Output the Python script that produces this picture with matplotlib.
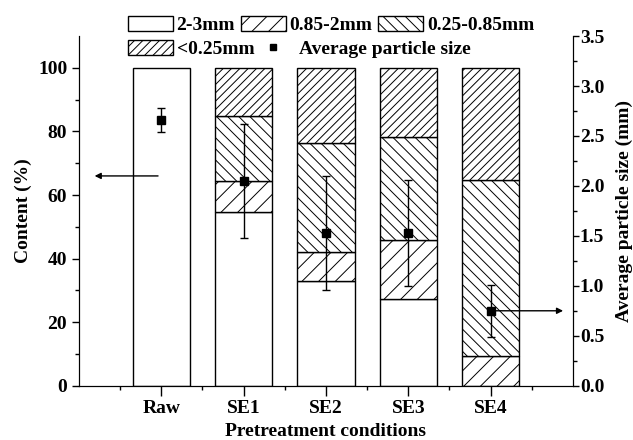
import numpy as np
import matplotlib
matplotlib.use("Agg")
import matplotlib.pyplot as plt
from matplotlib.patches import Patch
from matplotlib.lines import Line2D
from matplotlib.ticker import MultipleLocator, FixedLocator, FormatStrFormatter

# data
categories = ['Raw', 'SE1', 'SE2', 'SE3', 'SE4']
frac_2_3 = [100, 54.5, 33.0, 27.3, 0]
frac_085_2 = [0, 10.0, 9.1, 18.5, 9.4]
frac_025_085 = [0, 20.5, 34.2, 32.5, 55.3]
frac_lt025 = [0, 15.0, 23.7, 21.7, 35.3]
avg_size = [2.66, 2.05, 1.53, 1.53, 0.75]
avg_err = [0.12, 0.57, 0.57, 0.53, 0.26]

labels = ['2-3mm', '0.85-2mm', '0.25-0.85mm', '<0.25mm']
hatches = ['', '//', '\\\\\\', '////']

plt.rcParams['font.family'] = ['Liberation Serif', 'DejaVu Serif']
plt.rcParams['font.weight'] = 'bold'
plt.rcParams['axes.labelweight'] = 'bold'
plt.rcParams['font.size'] = 14
plt.rcParams['hatch.linewidth'] = 0.7

fig = plt.figure(figsize=(6.33, 4.40), dpi=100)
ax = fig.add_axes([0.1248, 0.1234, 0.7804, 0.7946])

x = np.arange(1, len(categories) + 1)
bottom = np.zeros(len(categories))
for vals, h in zip([frac_2_3, frac_085_2, frac_025_085, frac_lt025], hatches):
    vals = np.array(vals, dtype=float)
    keep = vals > 0
    ax.bar(x[keep], vals[keep], 0.7, bottom=bottom[keep], color='white',
           edgecolor='black', hatch=h, linewidth=1, zorder=2)
    bottom += vals

ax.set_xlim(0, 6)
ax.set_ylim(0, 110)
ax.set_xticks(x, categories)
ax.xaxis.set_minor_locator(FixedLocator(np.arange(0.5, 6, 1)))
ax.yaxis.set_major_locator(FixedLocator(np.arange(0, 101, 20)))
ax.yaxis.set_minor_locator(FixedLocator(np.arange(10, 101, 20)))
ax.tick_params(which='major', direction='out', length=5, width=1)
ax.tick_params(which='minor', direction='out', length=3, width=1)
ax.tick_params(axis='x', which='major', length=7)
ax.set_xlabel('Pretreatment conditions', labelpad=4)
ax.set_ylabel('Content (%)')
ax.spines['top'].set_visible(False)

ax2 = ax.twinx()
ax2.errorbar(x, avg_size, yerr=avg_err, fmt='s', color='black', ms=6,
             capsize=3, elinewidth=1, capthick=1, zorder=3)
ax2.set_ylim(0, 3.5)
ax2.yaxis.set_major_locator(MultipleLocator(0.5))
ax2.yaxis.set_minor_locator(MultipleLocator(0.25))
ax2.yaxis.set_major_formatter(FormatStrFormatter('%.1f'))
ax2.tick_params(which='major', direction='out', length=4, width=1, pad=1)
ax2.tick_params(which='minor', direction='out', length=3, width=1)
ax2.set_ylabel('Average particle size (mm)', labelpad=8)
ax2.spines['top'].set_visible(False)

# arrows pointing to the matching axis
arr = dict(arrowstyle='-|>', color='black', lw=1, mutation_scale=9,
           shrinkA=0, shrinkB=0)
ax.annotate('', xy=(0.19, 66), xytext=(0.96, 66), arrowprops=arr)
ax2.annotate('', xy=(5.88, avg_size[-1]), xytext=(x[-1], avg_size[-1]),
             arrowprops=arr)

patches = [Patch(facecolor='white', edgecolor='black', hatch=h, linewidth=1)
           for h in hatches]
marker = Line2D([], [], marker='s', ls='none', color='black', ms=5)

common = dict(frameon=False, borderpad=0, borderaxespad=0, handlelength=2.3,
              handleheight=0.82, handletextpad=0.2, loc='center left')
fig.legend(patches[:3], labels[:3], ncol=3, columnspacing=0.3,
           bbox_to_anchor=(128 / 633, 1 - 25 / 440), **common)
fig.legend([patches[3], marker], [labels[3], 'Average particle size'],
           ncol=2, columnspacing=-0.2,
           bbox_to_anchor=(128 / 633, 1 - 49 / 440), **common)

fig.savefig('out.png', dpi=100)
